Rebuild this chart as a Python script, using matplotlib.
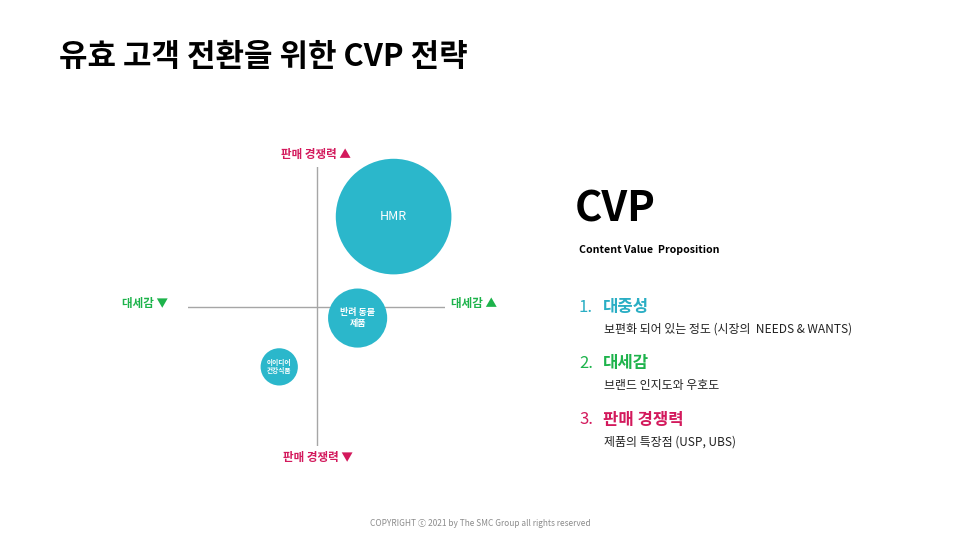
import matplotlib
matplotlib.use("Agg")
import matplotlib.pyplot as plt
from matplotlib.patches import Circle

plt.rcParams["font.family"] = ["Noto Sans CJK KR", "DejaVu Sans"]

# ----------------------------
# data
# ----------------------------
TITLE = "유효 고객 전환을 위한 CVP 전략"

# bubble chart: x = 대세감, y = 판매 경쟁력, r = 대중성
bubble_names = ["HMR", "반려 동물\n제품", "아이디어\n건강식품"]
bubble_x = [6.0, 3.2, -2.9]
bubble_y = [7.0, -0.9, -4.7]
bubble_r = [4.5, 2.3, 1.45]

axis_x_label = "대세감"
axis_y_label = "판매 경쟁력"

cvp_items = ["대중성", "대세감", "판매 경쟁력"]
cvp_desc = [
    "보편화 되어 있는 정도 (시장의  NEEDS & WANTS)",
    "브랜드 인지도와 우호도",
    "제품의 특장점 (USP, UBS)",
]

COPYRIGHT = "COPYRIGHT ⓒ 2021 by The SMC Group all rights reserved"

# ----------------------------
# styles
# ----------------------------
CYAN = "#2BB7CB"
CYAN_TXT = "#2AAEC4"
GREEN = "#1DB34B"
MAGENTA = "#D3195C"
GRAY = "#A6A6A6"
item_colors = [CYAN_TXT, GREEN, MAGENTA]
bubble_font = [9, 6.5, 4.8]
bubble_weight = ["normal", "bold", "bold"]

W, H = 960, 540


def fx(x):
    return x / W


def fy(y):
    return 1 - y / H


fig = plt.figure(figsize=(9.6, 5.4), dpi=100)
fig.patch.set_facecolor("white")

fig.text(fx(59), fy(57), TITLE, fontsize=22.3, fontweight="bold", color="black",
         ha="left", va="center")

# ----------------------------
# quadrant bubble chart
# ----------------------------
ax = fig.add_axes([fx(188), fy(446), 257 / W, 279 / H])
ax.set_xlim(-10, 10)
ax.set_ylim(-10.86, 10.86)
ax.axis("off")
ax.axhline(0, color=GRAY, lw=1.0, zorder=1)
ax.axvline(0, color=GRAY, lw=1.0, zorder=1)

for name, x, y, r, fs, fw in zip(bubble_names, bubble_x, bubble_y, bubble_r,
                                 bubble_font, bubble_weight):
    ax.add_patch(Circle((x, y), r, facecolor=CYAN, edgecolor="none",
                        clip_on=False, zorder=2))
    ax.text(x, y, name, color="white", fontsize=fs, fontweight=fw,
            ha="center", va="center", linespacing=1.2, zorder=3)

# axis end labels (figure pixel positions)
fig.text(fx(316), fy(154), axis_y_label + " ▲", color=MAGENTA, fontsize=8.3,
         fontweight="bold", ha="center", va="center")
fig.text(fx(318), fy(457), axis_y_label + " ▼", color=MAGENTA, fontsize=8.3,
         fontweight="bold", ha="center", va="center")
fig.text(fx(145), fy(303), axis_x_label + " ▼", color=GREEN, fontsize=8.3,
         fontweight="bold", ha="center", va="center")
fig.text(fx(474), fy(303), axis_x_label + " ▲", color=GREEN, fontsize=8.3,
         fontweight="bold", ha="center", va="center")

# ----------------------------
# right panel
# ----------------------------
fig.text(fx(575), fy(210), "CVP", fontsize=30, fontweight="bold",
         color="black", ha="left", va="center")
fig.text(fx(579), fy(250), "Content Value  Proposition", fontsize=7.6,
         fontweight="bold", color="black", ha="left", va="center")

item_y = [307, 363, 420]
for i, (item, desc, col, yy) in enumerate(zip(cvp_items, cvp_desc, item_colors, item_y)):
    fig.text(fx(579), fy(yy), f"{i + 1}.", fontsize=12, color=col,
             ha="left", va="center")
    fig.text(fx(603), fy(yy), item, fontsize=12, fontweight="bold", color=col,
             ha="left", va="center")
    fig.text(fx(604), fy(yy + 22), desc, fontsize=8.6, color="#222222",
             ha="left", va="center")

fig.text(fx(480), fy(523), COPYRIGHT, fontsize=6, color="#8C8C8C",
         ha="center", va="center")

fig.savefig("out.png", dpi=100)
